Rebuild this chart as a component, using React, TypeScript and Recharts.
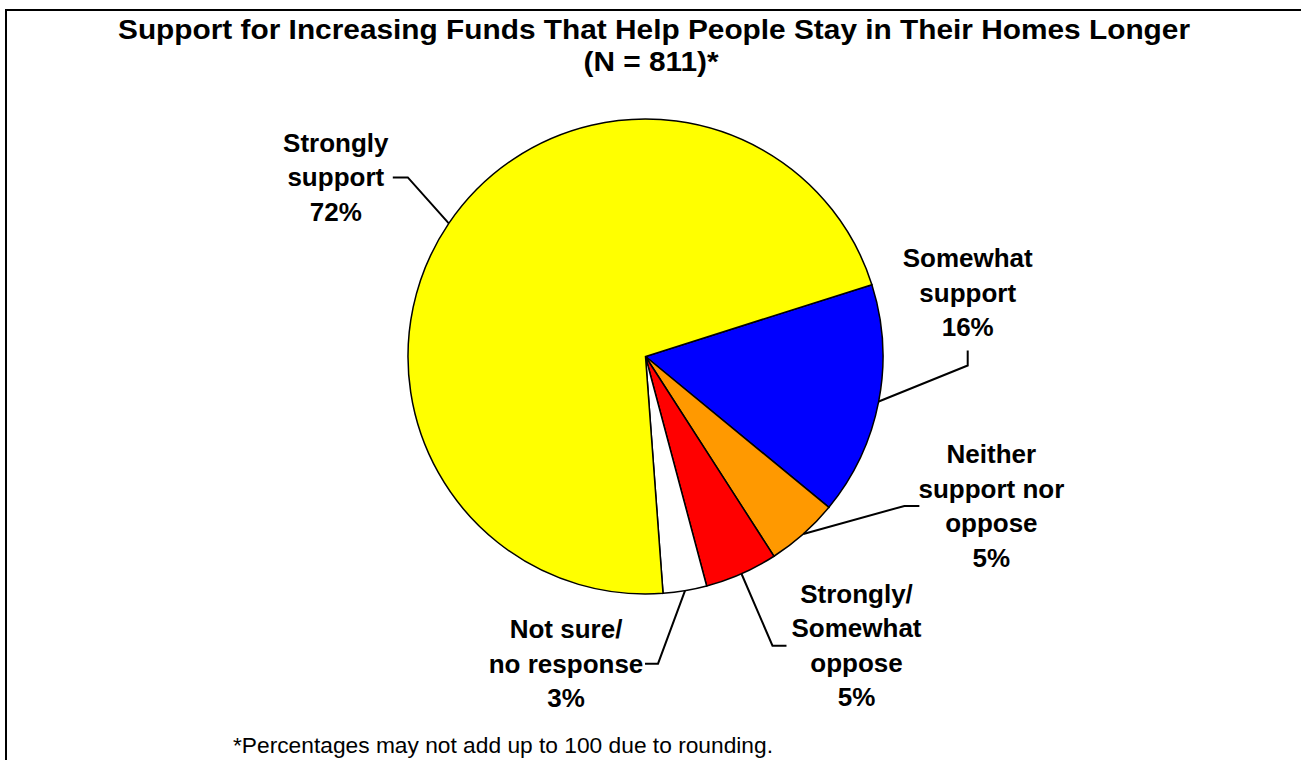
import { PieChart, Pie, Cell } from "recharts";

// ─── Data ─────────────────────────────────────────────────────────────────────

const CATEGORIES = [
  "Somewhat support",
  "Neither support nor oppose",
  "Strongly/Somewhat oppose",
  "Not sure/no response",
  "Strongly support",
];

const LABEL_LINES: string[][] = [
  ["Somewhat", "support"],
  ["Neither", "support nor", "oppose"],
  ["Strongly/", "Somewhat", "oppose"],
  ["Not sure/", "no response"],
  ["Strongly", "support"],
];

const PERCENTS = [16, 5, 5, 3, 72];

const COLORS = ["#0000FF", "#FF9900", "#FF0000", "#FFFFFF", "#FFFF00"];

const TITLE = "Support for Increasing Funds That Help People Stay in Their Homes Longer";
const SUBTITLE = "(N = 811)*";
const FOOTNOTE = "*Percentages may not add up to 100 due to rounding.";

// ─── Layout ───────────────────────────────────────────────────────────────────

const W = 1301;
const H = 760;
const FONT = '"Liberation Sans", Arial, Helvetica, sans-serif';
const LABEL_SIZE = 26;
const LINE_H = 34.5;
const RAD = Math.PI / 180;

// leader line: elbow relative to slice edge, tail relative to elbow, text x relative to tail end
interface Leader {
  elbow: [number, number];
  tail: [number, number];
  textDx: number;
  valign: "middle" | "above";
}

const LEADERS: Leader[] = [
  { elbow: [89, -36], tail: [0, -15], textDx: 0, valign: "above" },
  { elbow: [101, -28], tail: [15, 0], textDx: 72, valign: "middle" },
  { elbow: [31, 72], tail: [14, 0], textDx: 70, valign: "middle" },
  { elbow: [-27, 73], tail: [-13, 0], textDx: -79, valign: "middle" },
  { elbow: [-41, -46], tail: [-15, 0], textDx: -57, valign: "middle" },
];

const chartData = CATEGORIES.map((name, i) => ({ name, value: PERCENTS[i] }));

// ─── Label ────────────────────────────────────────────────────────────────────

function SliceLabel(props: any) {
  const { cx, cy, midAngle, outerRadius, index } = props;
  const lead = LEADERS[index];
  const px = cx + outerRadius * Math.cos(-midAngle * RAD);
  const py = cy + outerRadius * Math.sin(-midAngle * RAD);
  const ex = px + lead.elbow[0];
  const ey = py + lead.elbow[1];
  const hx = ex + lead.tail[0];
  const hy = ey + lead.tail[1];
  const lines = [...LABEL_LINES[index], `${PERCENTS[index]}%`];
  const n = lines.length;
  const firstBase =
    lead.valign === "above"
      ? hy - 14 - (n - 1) * LINE_H
      : hy - ((n - 1) * LINE_H) / 2 + 9;
  const tx = hx + lead.textDx;
  return (
    <g>
      <polyline
        points={`${px},${py} ${ex},${ey} ${hx},${hy}`}
        fill="none"
        stroke="#000"
        strokeWidth={2}
      />
      <text
        x={tx}
        y={firstBase}
        textAnchor="middle"
        fontFamily={FONT}
        fontSize={LABEL_SIZE}
        fontWeight="bold"
        fill="#000"
      >
        {lines.map((l, i) => (
          <tspan key={i} x={tx} y={firstBase + i * LINE_H}>
            {l}
          </tspan>
        ))}
      </text>
    </g>
  );
}

// ─── App ──────────────────────────────────────────────────────────────────────

export default function App() {
  return (
    <div
      style={{
        position: "absolute",
        left: 0,
        top: 0,
        width: W,
        height: H,
        overflow: "hidden",
        background: "#fff",
      }}
    >
      <div
        style={{
          position: "absolute",
          left: 5,
          top: 9,
          width: W + 100,
          height: H + 100,
          border: "2px solid #000",
        }}
      />
      <div style={{ position: "absolute", left: 0, top: 0 }}>
        <PieChart width={W} height={H}>
          <Pie
            data={chartData}
            dataKey="value"
            nameKey="name"
            cx={640.5}
            cy={351.5}
            outerRadius={237.5}
            startAngle={17.6}
            endAngle={-342.4}
            stroke="#000"
            strokeWidth={1.5}
            label={SliceLabel}
            labelLine={false}
            isAnimationActive={false}
          >
            {chartData.map((d, i) => (
              <Cell key={d.name} fill={COLORS[i]} />
            ))}
          </Pie>
        </PieChart>
      </div>
      <svg
        width={W}
        height={H}
        style={{ position: "absolute", left: 0, top: 0, pointerEvents: "none" }}
      >
        <text
          x={654}
          y={39}
          textAnchor="middle"
          fontFamily={FONT}
          fontSize={27.5}
          fontWeight="bold"
          fill="#000"
          textLength={1072}
          lengthAdjust="spacingAndGlyphs"
        >
          {TITLE}
        </text>
        <text
          x={651}
          y={71}
          textAnchor="middle"
          fontFamily={FONT}
          fontSize={27.5}
          fontWeight="bold"
          fill="#000"
          textLength={135}
          lengthAdjust="spacingAndGlyphs"
        >
          {SUBTITLE}
        </text>
        <text
          x={233}
          y={753}
          fontFamily={FONT}
          fontSize={21.5}
          fill="#000"
          textLength={540}
          lengthAdjust="spacingAndGlyphs"
        >
          {FOOTNOTE}
        </text>
      </svg>
    </div>
  );
}
